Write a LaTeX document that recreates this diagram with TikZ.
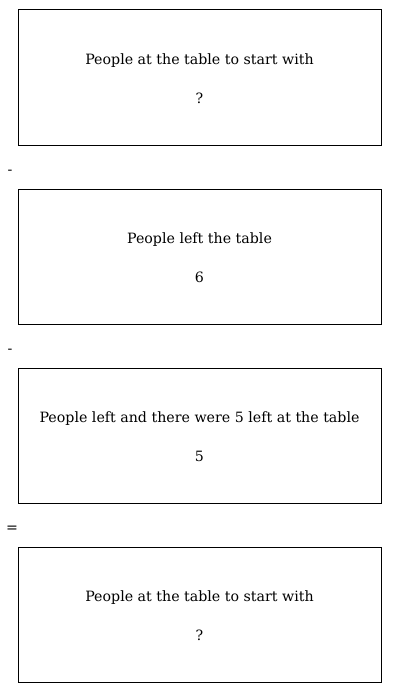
\documentclass[tikz,border=0pt]{standalone}
\usepackage{fontspec}
\setmainfont{DejaVu Serif}
\begin{document}
\begin{tikzpicture}[x=1pt,y=1pt,
  box/.style={draw=black,line width=1pt,minimum width=363pt,minimum height=135pt,inner sep=0pt,outer sep=0pt},
  lbl/.style={font=\fontsize{14.2}{18}\selectfont,anchor=base,inner sep=0pt},
  op/.style={font=\fontsize{14.2}{18}\selectfont,anchor=base,inner sep=0pt}]
\useasboundingbox (0,0) rectangle (400,-693);
% boxes
\node[box] (b1) at (199.5,-77.5) {};
\node[box] (b2) at (199.5,-256.5) {};
\node[box] (b3) at (199.5,-435.5) {};
\node[box] (b4) at (199.5,-614.5) {};
% texts
\node[lbl] (t1) at ([yshift=-54.3pt]b1.north) {People at the table to start with};
\node[lbl] (v1) at ([yshift=-93.3pt]b1.north) {?};
\node[lbl] (t2) at ([yshift=-54.3pt]b2.north) {People left the table};
\node[lbl] (v2) at ([yshift=-93.3pt]b2.north) {6};
\node[lbl] (t3) at ([yshift=-54.3pt]b3.north) {People left and there were 5 left at the table};
\node[lbl] (v3) at ([yshift=-93.3pt]b3.north) {5};
\node[lbl] (t4) at ([yshift=-54.3pt]b4.north) {People at the table to start with};
\node[lbl] (v4) at ([yshift=-93.3pt]b4.north) {?};
% operators
\node[op] (o1) at (10,-174) {-};
\node[op] (o2) at (10,-353) {-};
\node[op] (o3) at (12,-532) {=};
\end{tikzpicture}
\end{document}
